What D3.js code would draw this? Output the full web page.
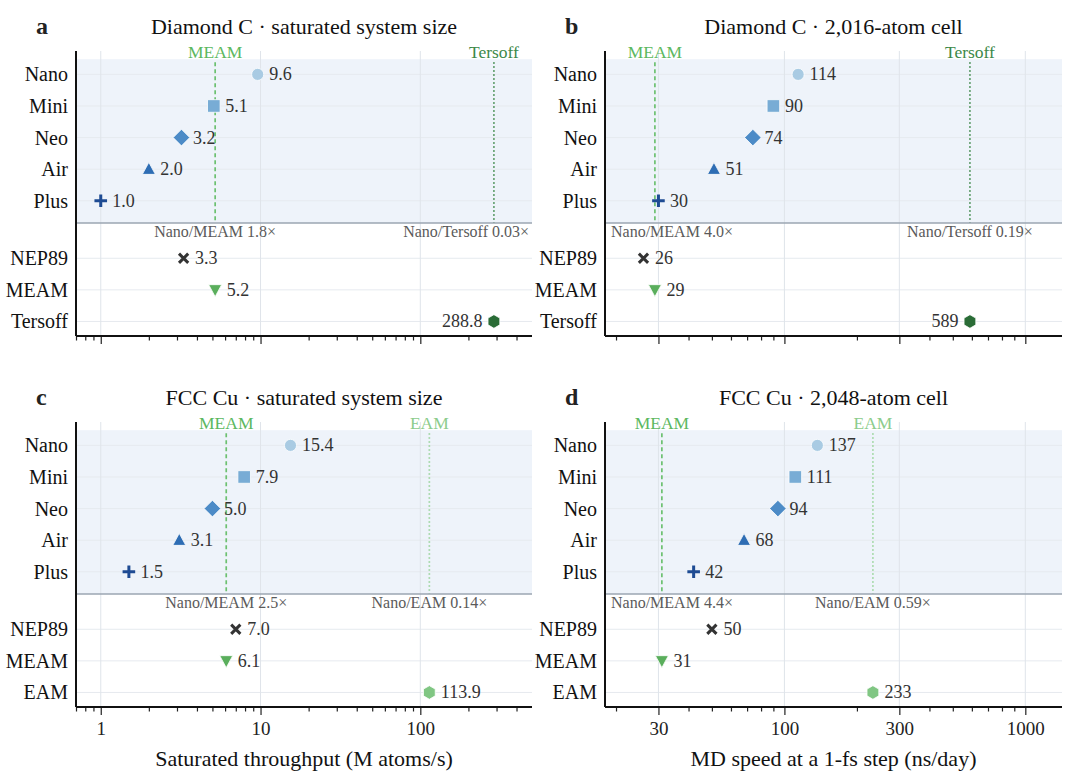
<!DOCTYPE html>
<html lang="en">
<head>
  <meta charset="UTF-8">
  <title>throughput dot plots</title>
  <style>
    body { margin: 0; background: #fff; }
    svg { display: block; font-family: "Liberation Serif", "Times New Roman", serif; }
    .tick line { stroke: #222; stroke-width: 1.2; }
    .tick text { font-size: 19px; fill: #222; font-family: "Liberation Serif", serif; }
  </style>
</head>
<body>
  <svg width="1080" height="781"></svg>
  <script src="https://cdn.jsdelivr.net/npm/d3@7"></script>
  <script type="text/javascript">
    // data
    var models = ["Nano", "Mini", "Neo", "Air", "Plus"];
    var diamondBaselines = ["NEP89", "MEAM", "Tersoff"];
    var cuBaselines = ["NEP89", "MEAM", "EAM"];

    var diamondThroughput = [9.6, 5.1, 3.2, 2.0, 1.0, 3.3, 5.2, 288.8];
    var diamondSpeed = [114, 90, 74, 51, 30, 26, 29, 589];
    var cuThroughput = [15.4, 7.9, 5.0, 3.1, 1.5, 7.0, 6.1, 113.9];
    var cuSpeed = [137, 111, 94, 68, 42, 50, 31, 233];

    var diamondThroughputRatios = ["1.8×", "0.03×"];
    var diamondSpeedRatios = ["4.0×", "0.19×"];
    var cuThroughputRatios = ["2.5×", "0.14×"];
    var cuSpeedRatios = ["4.4×", "0.59×"];

    var throughputTicks = [1, 10, 100];
    var speedTicks = [30, 100, 300, 1000];

    var titles = [
      "Diamond C · saturated system size",
      "Diamond C · 2,016-atom cell",
      "FCC Cu · saturated system size",
      "FCC Cu · 2,048-atom cell"
    ];
    var xTitles = ["Saturated throughput (M atoms/s)", "MD speed at a 1-fs step (ns/day)"];

    // layout
    var cols = [{x0: 76, x1: 532}, {x0: 605, x1: 1062}];
    var rowsY = [{y0: 51, y1: 336}, {y0: 422, y1: 707}];
    var rowPos = [0, 1, 2, 3, 4, 5.82, 6.82, 7.82];
    var sepPos = 4.7, shadeTop = -0.48;

    var styles = {
      Nano:    {shape: "circle",   color: "#a9cbe3"},
      Mini:    {shape: "square",   color: "#78acd5"},
      Neo:     {shape: "diamond",  color: "#4c8bc7"},
      Air:     {shape: "triangle", color: "#2e6db4"},
      Plus:    {shape: "plus",     color: "#1e4b93"},
      NEP89:   {shape: "x",        color: "#333333"},
      MEAM:    {shape: "tridown",  color: "#5aae5c"},
      Tersoff: {shape: "hexagon",  color: "#2a6c36"},
      EAM:     {shape: "hexagon",  color: "#80c683"}
    };
    var refStyles = {
      MEAM:    {line: "#6cc070", label: "#5cb85f", dash: "4,3"},
      Tersoff: {line: "#3c8848", label: "#3c8848", dash: "1.5,2.5"},
      EAM:     {line: "#99d49a", label: "#8ccc8c", dash: "1.5,2.5"}
    };

    var panels = [
      {letter: "a", title: titles[0], names: models.concat(diamondBaselines), values: diamondThroughput,
       ratios: diamondThroughputRatios, domain: [0.7, 500], majors: throughputTicks, fmt: 1, col: 0, row: 0},
      {letter: "b", title: titles[1], names: models.concat(diamondBaselines), values: diamondSpeed,
       ratios: diamondSpeedRatios, domain: [18, 1420], majors: speedTicks, fmt: 0, col: 1, row: 0},
      {letter: "c", title: titles[2], names: models.concat(cuBaselines), values: cuThroughput,
       ratios: cuThroughputRatios, domain: [0.7, 500], majors: throughputTicks, fmt: 1, col: 0, row: 1},
      {letter: "d", title: titles[3], names: models.concat(cuBaselines), values: cuSpeed,
       ratios: cuSpeedRatios, domain: [18, 1420], majors: speedTicks, fmt: 0, col: 1, row: 1}
    ];

    function markerPath(shape) {
      switch (shape) {
        case "circle": return d3.symbol(d3.symbolCircle, 115)();
        case "square": return "M-6.3,-6.3H6.3V6.3H-6.3Z";
        case "diamond": return "M0,-8.3L8.3,0L0,8.3L-8.3,0Z";
        case "triangle": return "M0,-6.8L6.5,5.2L-6.5,5.2Z";
        case "tridown": return "M0,6.8L6.5,-5.2L-6.5,-5.2Z";
        case "plus": return "M-6.3,0H6.3M0,-6.3V6.3";
        case "x": return "M-4.6,-4.6L4.6,4.6M-4.6,4.6L4.6,-4.6";
        case "hexagon":
          var pts = d3.range(6).map(function(i) {
            var a = Math.PI / 3 * i - Math.PI / 2;
            return [6.8 * Math.cos(a), 6.8 * Math.sin(a)];
          });
          return "M" + pts.join("L") + "Z";
      }
    }

    var svg = d3.select("svg");

    panels.forEach(function(p) {
      var x0 = cols[p.col].x0, x1 = cols[p.col].x1,
        y0 = rowsY[p.row].y0, y1 = rowsY[p.row].y1;
      var x = d3.scaleLog().domain(p.domain).range([x0, x1]);
      var y = d3.scaleLinear().domain([-0.74, 8.28]).range([y0, y1]);
      var g = svg.append("g");

      // shaded band for the model rows
      g.append("rect")
        .attr("x", x0).attr("y", y(shadeTop))
        .attr("width", x1 - x0).attr("height", y(sepPos) - y(shadeTop))
        .attr("fill", "#eef3fa");

      // grid
      g.selectAll(".hgrid").data(rowPos).enter().append("line")
        .attr("x1", x0).attr("x2", x1)
        .attr("y1", function(d) { return y(d); }).attr("y2", function(d) { return y(d); })
        .attr("stroke", "#e6eaef").attr("stroke-width", 1);
      g.selectAll(".vgrid").data(p.majors).enter().append("line")
        .attr("x1", function(d) { return x(d); }).attr("x2", function(d) { return x(d); })
        .attr("y1", y0).attr("y2", y1)
        .attr("stroke", "#dfe4ea").attr("stroke-width", 1);

      // reference lines (the two classical potentials)
      var refs = [6, 7].map(function(i, k) {
        return {name: p.names[i], value: p.values[i], ratio: p.ratios[k]};
      });
      refs.forEach(function(r) {
        var st = refStyles[r.name];
        g.append("line")
          .attr("x1", x(r.value)).attr("x2", x(r.value))
          .attr("y1", y(shadeTop) + 3).attr("y2", y(sepPos))
          .attr("stroke", st.line).attr("stroke-width", 1.7)
          .attr("stroke-dasharray", st.dash);
        g.append("text")
          .attr("x", x(r.value)).attr("y", y0 + 1)
          .attr("text-anchor", "middle").attr("dominant-baseline", "central")
          .attr("font-size", 17.5).attr("fill", st.label)
          .text(r.name);
      });

      // separator
      g.append("line")
        .attr("x1", x0).attr("x2", x1).attr("y1", y(sepPos)).attr("y2", y(sepPos))
        .attr("stroke", "#9ba6b2").attr("stroke-width", 1.5);

      // ratio labels, kept inside the plot
      refs.forEach(function(r) {
        var t = g.append("text")
          .attr("y", y(sepPos) + 9)
          .attr("text-anchor", "middle").attr("dominant-baseline", "central")
          .attr("font-size", 16).attr("fill", "#5a5a5a")
          .text("Nano/" + r.name + " " + r.ratio);
        var w = t.node().getComputedTextLength();
        var cx = Math.max(x0 + 6 + w / 2, Math.min(x1 - 3 - w / 2, x(r.value)));
        t.attr("x", cx);
      });

      // axes
      var minors = [];
      [0.1, 1, 10, 100, 1000].forEach(function(dec) {
        d3.range(2, 10).forEach(function(k) {
          var v = k * dec;
          if (v > p.domain[0] && v < p.domain[1] * 0.999 && p.majors.indexOf(v) < 0) minors.push(v);
        });
      });
      g.append("g")
        .attr("transform", "translate(0," + y1 + ")")
        .call(d3.axisBottom(x).tickValues(minors).tickSize(4.5).tickSizeOuter(0).tickFormat(""))
        .call(function(a) { a.select(".domain").remove(); });
      g.append("g")
        .attr("transform", "translate(0," + y1 + ")")
        .call(d3.axisBottom(x).tickValues(p.majors).tickSize(8).tickSizeOuter(0).tickPadding(7)
          .tickFormat(p.row === 1 ? d3.format("d") : function() { return ""; }))
        .call(function(a) { a.select(".domain").remove(); });

      g.append("line").attr("x1", x0).attr("x2", x1).attr("y1", y1).attr("y2", y1)
        .attr("stroke", "#111").attr("stroke-width", 2);
      g.append("line").attr("x1", x0).attr("x2", x0).attr("y1", y0).attr("y2", y1)
        .attr("stroke", "#111").attr("stroke-width", 2);

      // row labels
      g.selectAll(".ylab").data(p.names).enter().append("text")
        .attr("x", x0 - 8)
        .attr("y", function(d, i) { return y(rowPos[i]); })
        .attr("text-anchor", "end").attr("dominant-baseline", "central")
        .attr("font-size", 20).attr("fill", "#111")
        .text(function(d) { return d; });

      // markers
      g.selectAll(".mk").data(p.names).enter().append("path")
        .attr("d", function(d) { return markerPath(styles[d].shape); })
        .attr("transform", function(d, i) {
          return "translate(" + x(p.values[i]) + "," + y(rowPos[i]) + ")";
        })
        .each(function(d) {
          var st = styles[d], el = d3.select(this);
          if (st.shape === "plus" || st.shape === "x") {
            el.attr("fill", "none").attr("stroke", st.color).attr("stroke-width", 3);
          } else {
            el.attr("fill", st.color).attr("stroke", "#fff").attr("stroke-width", 0.8);
          }
        });

      // value labels
      g.selectAll(".val").data(p.names).enter().append("text")
        .attr("x", function(d, i) {
          var px = x(p.values[i]);
          return px > x1 - 100 ? px - 11.5 : px + 11.5;
        })
        .attr("y", function(d, i) { return y(rowPos[i]); })
        .attr("text-anchor", function(d, i) { return x(p.values[i]) > x1 - 100 ? "end" : "start"; })
        .attr("dominant-baseline", "central")
        .attr("font-size", 18).attr("fill", "#333")
        .text(function(d, i) { return p.values[i].toFixed(p.fmt); });

      // titles
      g.append("text")
        .attr("x", (x0 + x1) / 2).attr("y", y0 - 25)
        .attr("text-anchor", "middle").attr("dominant-baseline", "central")
        .attr("font-size", 22).attr("fill", "#111")
        .text(p.title);
      g.append("text")
        .attr("x", x0 - 40).attr("y", y0 - 25)
        .attr("dominant-baseline", "central")
        .attr("font-size", 24).attr("font-weight", "bold").attr("fill", "#222")
        .text(p.letter);

      if (p.row === 1) {
        g.append("text")
          .attr("x", (x0 + x1) / 2).attr("y", y1 + 51)
          .attr("text-anchor", "middle").attr("dominant-baseline", "central")
          .attr("font-size", 22).attr("fill", "#111")
          .text(xTitles[p.col]);
      }
    });
  </script>
</body>
</html>
